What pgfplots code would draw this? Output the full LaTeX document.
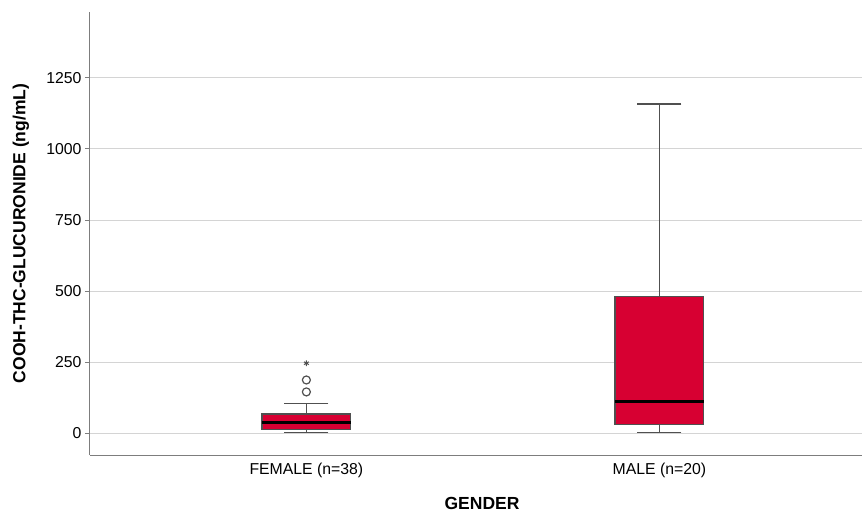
\documentclass[border=0pt]{standalone}
\usepackage{pgfplots}
\pgfplotsset{compat=1.18}
\usepgfplotslibrary{statistics}
\usepackage{fontspec}
\setmainfont{Liberation Sans}
\definecolor{boxred}{RGB}{215,0,50}
\definecolor{gridgray}{RGB}{212,212,212}
\definecolor{axgray}{RGB}{125,125,125}
\definecolor{edgegray}{RGB}{80,80,80}
\begin{document}
\begin{tikzpicture}
\begin{axis}[
  at={(0,0)}, anchor=south west,
  scale only axis, width=772pt, height=443pt,
  xmin=-0.613, xmax=1.574, ymin=-77, ymax=1482,
  axis x line*=bottom, axis y line*=left,
  axis line style={axgray, line width=1pt, -},
  xtick={0,1}, xticklabels={FEMALE (n=38), MALE (n=20)},
  ytick={0,250,500,750,1000,1250},
  ymajorgrids, grid style={gridgray, line width=1pt},
  tick style={axgray, line width=1pt},
  major tick length=5pt, tick align=outside,
  x tick style={draw=none},
  tick label style={font=\fontsize{15.8}{18}\selectfont},
  /pgf/number format/assume math mode=true,
  /pgf/number format/set thousands separator={},
  label style={font=\fontsize{17.5}{20}\selectfont\bfseries},
  xlabel={GENDER}, ylabel={COOH-THC-GLUCURONIDE (ng/mL)},
  xlabel style={at={(axis description cs:0.5078,-0.1084)}, anchor=center},
  ylabel style={at={(axis description cs:-0.0894,0.5)}, anchor=center},
  boxplot/draw direction=y,
  boxplot/every whisker/.style={edgegray, line width=1.3pt},
  boxplot/every box/.style={draw=edgegray, fill=boxred, line width=1.2pt},
  boxplot/every median/.style={black, line width=3pt},
]
\addplot[boxplot prepared={draw position=0, median=39, upper quartile=67,
    lower quartile=14, upper whisker=105, lower whisker=1,
    box extend=0.252, whisker extend=0.125},
  fill=boxred, draw=edgegray, line width=1.2pt] coordinates {};
\addplot[boxplot prepared={draw position=1, median=113, upper quartile=482,
    lower quartile=31, upper whisker=1158, lower whisker=1,
    box extend=0.252, whisker extend=0.125},
  fill=boxred, draw=edgegray, line width=1.2pt] coordinates {};
\addplot[only marks, mark=o, mark size=4pt, color=edgegray, line width=1.2pt,
  mark options={fill=white}] coordinates {(0,145) (0,187)};
\addplot[only marks, mark=asterisk, mark size=2.8pt, color=edgegray, line width=1pt]
  coordinates {(0,246)};
\end{axis}
\pgfresetboundingbox
\path (-90pt,-59pt) rectangle (772pt,455pt);
\end{tikzpicture}
\end{document}
